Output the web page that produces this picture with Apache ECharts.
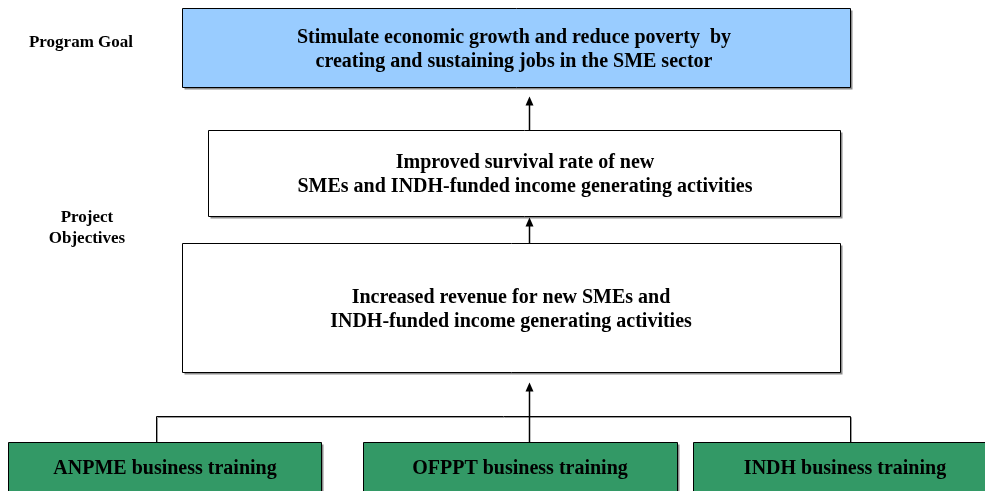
<!DOCTYPE html>
<html>
<head>
<meta charset="utf-8">
<script src="https://cdn.jsdelivr.net/npm/echarts@6/dist/echarts.min.js"></script>
<style>
  html, body { margin: 0; padding: 0; background: #fff; }
  #main { width: 985px; height: 491px; }
</style>
</head>
<body>
<div id="main"></div>
<script>
// texts of the diagram
var sideLabels = ['Program Goal', 'Project\nObjectives'];
var goalText = 'Stimulate economic growth and reduce poverty  by\ncreating and sustaining jobs in the SME sector';
var objectiveTexts = [
  'Improved survival rate of new\nSMEs and INDH-funded income generating activities',
  'Increased revenue for new SMEs and\nINDH-funded income generating activities'
];
var activityTexts = ['ANPME business training', 'OFPPT business training', 'INDH business training'];

// layout (px, y downward) - kept apart from the texts
var boxes = [
  { x0: 182, y0: 8, x1: 850, y1: 87, fill: '#99CCFF', text: goalText, tx: 514, ty: 50 },
  { x0: 208, y0: 130, x1: 840, y1: 216, fill: '#FFFFFF', text: objectiveTexts[0], tx: 525, ty: 175 },
  { x0: 182, y0: 243, x1: 840, y1: 372, fill: '#FFFFFF', text: objectiveTexts[1], tx: 511, ty: 310 },
  { x0: 8, y0: 442, x1: 321, y1: 520, fill: '#339966', text: activityTexts[0], tx: 165, ty: 469 },
  { x0: 363, y0: 442, x1: 677, y1: 520, fill: '#339966', text: activityTexts[1], tx: 520, ty: 469 },
  { x0: 693, y0: 442, x1: 997, y1: 520, fill: '#339966', text: activityTexts[2], tx: 845, ty: 469 }
];
var labelPos = [[81, 43], [87, 228]];
var connectors = [
  [[156, 442], [156, 416], [850, 416], [850, 442]]
];
var arrows = [
  [[529, 130], [529, 96]],
  [[529, 243], [529, 217]],
  [[529, 442], [529, 382]]
];

var chart = echarts.init(document.getElementById('main'));
var font = 'bold 20px "Liberation Serif", "Times New Roman", serif';

function px(api, p) {
  var c = api.coord(p);
  return [Math.round(c[0]) + 0.5, Math.round(c[1]) + 0.5];
}

chart.setOption({
  animation: false,
  grid: { left: 0, right: 0, top: 0, bottom: 0 },
  xAxis: { type: 'value', min: 0, max: 985, show: false },
  yAxis: { type: 'value', min: 0, max: 491, inverse: true, show: false },
  series: [
    {
      // connector lines
      type: 'custom',
      silent: true,
      data: connectors.map(function (c, i) { return [i]; }),
      renderItem: function (params, api) {
        var pts = connectors[params.dataIndex].map(function (p) { return px(api, p); });
        return {
          type: 'polyline',
          shape: { points: pts },
          style: { stroke: '#000', lineWidth: 1, fill: null,
            shadowColor: '#9a9a9a', shadowOffsetX: 1, shadowOffsetY: 1, shadowBlur: 0 }
        };
      }
    },
    {
      // boxes
      type: 'custom',
      silent: true,
      data: boxes.map(function (b, i) { return [i]; }),
      renderItem: function (params, api) {
        var b = boxes[params.dataIndex];
        var a = px(api, [b.x0, b.y0]);
        var z = px(api, [b.x1, b.y1]);
        var t = api.coord([b.tx, b.ty]);
        return {
          type: 'group',
          children: [
            {
              type: 'rect',
              shape: { x: a[0] + 2, y: a[1] + 2, width: z[0] - a[0], height: z[1] - a[1] },
              style: { fill: '#8c8c8c' }
            },
            {
              type: 'rect',
              shape: { x: a[0], y: a[1], width: z[0] - a[0], height: z[1] - a[1] },
              style: { fill: b.fill, stroke: '#000', lineWidth: 1 }
            },
            {
              type: 'text',
              style: {
                text: b.text, x: t[0], y: t[1], font: font, fill: '#000',
                align: 'center', verticalAlign: 'middle', lineHeight: 24
              }
            }
          ]
        };
      }
    },
    {
      // arrows
      type: 'custom',
      silent: true,
      data: arrows.map(function (a, i) { return [i]; }),
      renderItem: function (params, api) {
        var ar = arrows[params.dataIndex];
        var s = px(api, ar[0]);
        var t = px(api, ar[1]);
        return {
          type: 'group',
          children: [
            { type: 'line', shape: { x1: s[0], y1: s[1], x2: t[0], y2: t[1] + 8 },
              style: { stroke: '#000', lineWidth: 1.5 } },
            { type: 'polygon', shape: { points: [[t[0], t[1]], [t[0] - 4, t[1] + 9], [t[0] + 4, t[1] + 9]] },
              style: { fill: '#000' } }
          ]
        };
      }
    },
    {
      // side labels
      type: 'custom',
      silent: true,
      data: sideLabels.map(function (s, i) { return [i]; }),
      renderItem: function (params, api) {
        var p = api.coord(labelPos[params.dataIndex]);
        return {
          type: 'text',
          style: {
            text: sideLabels[params.dataIndex], x: p[0], y: p[1],
            font: 'bold 17px "Liberation Serif", "Times New Roman", serif',
            fill: '#000', align: 'center', verticalAlign: 'middle', lineHeight: 21
          }
        };
      }
    }
  ]
});
</script>
</body>
</html>
